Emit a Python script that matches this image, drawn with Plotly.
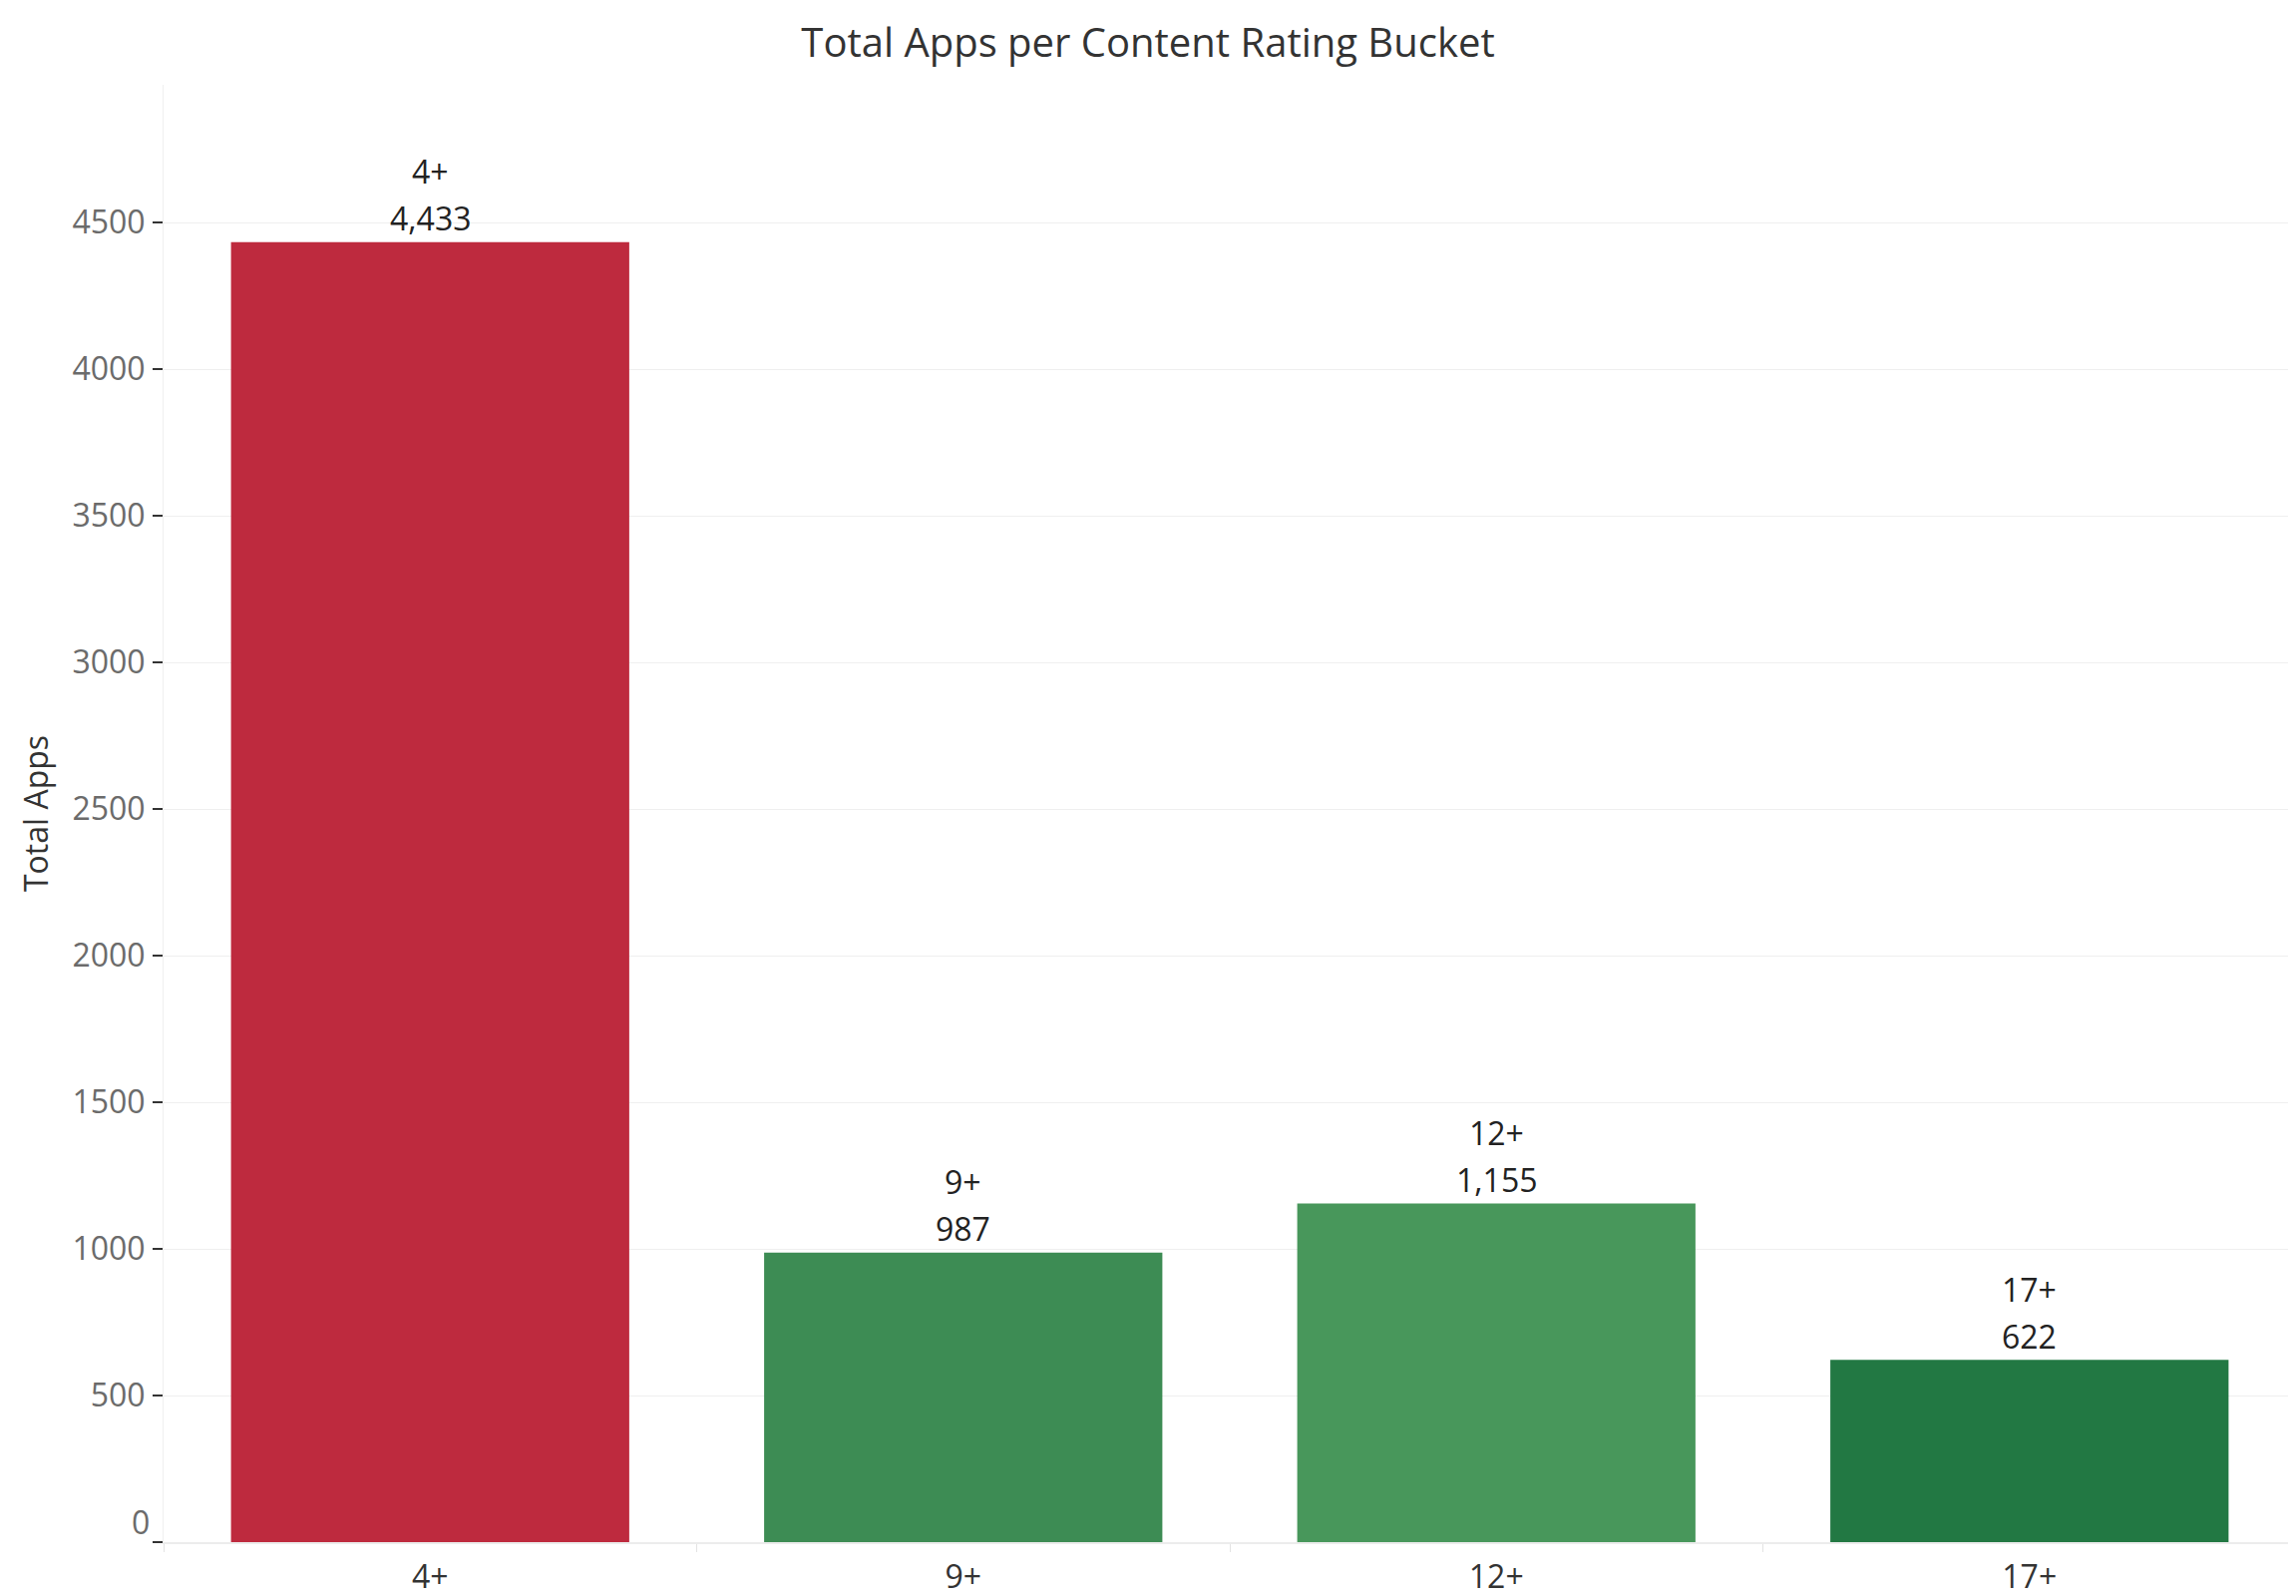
import plotly.graph_objects as go

categories = ["4+", "9+", "12+", "17+"]
total_apps = [4433, 987, 1155, 622]
bar_colors = ["#be2a3e", "#3d8c54", "#48975b", "#227843"]
y_tick_vals = [0, 500, 1000, 1500, 2000, 2500, 3000, 3500, 4000, 4500]
y_tick_text = ["", "500", "1000", "1500", "2000", "2500", "3000", "3500", "4000", "4500"]

FONT = "Open Sans"
W, H = 2294, 1592  # page body has an 8px margin

fig = go.Figure()
fig.add_trace(go.Bar(
    x=categories,
    y=total_apps,
    marker=dict(color=bar_colors, line=dict(width=0)),
    width=0.747,
    hoverinfo="x+y",
))

annotations = []
for c, v in zip(categories, total_apps):
    annotations.append(dict(x=c, y=v, xref="x", yref="y", text=f"{v:,}",
                            showarrow=False, yanchor="middle", yshift=24,
                            font=dict(family=FONT, size=32, color="#222222")))
    annotations.append(dict(x=c, y=v, xref="x", yref="y", text=c,
                            showarrow=False, yanchor="middle", yshift=71,
                            font=dict(family=FONT, size=32, color="#222222")))
# zero label sits above its tick, as in the reference
annotations.append(dict(x=0, y=y_tick_vals[0], xref="paper", yref="y", text="0",
                        showarrow=False, xanchor="right", yanchor="middle",
                        xshift=-12, yshift=21,
                        font=dict(family=FONT, size=32, color="#6b6b6b")))

fig.update_layout(
    width=W, height=H,
    paper_bgcolor="white", plot_bgcolor="white",
    margin=dict(l=156, r=0, t=77, b=54, autoexpand=False),
    showlegend=False,
    title=dict(text="Total Apps per Content Rating Bucket",
               x=(1151 - 8) / W, xanchor="center",
               y=1 - 35 / H, yanchor="middle",
               font=dict(family=FONT, size=40, color="#333333")),
    annotations=annotations,
    xaxis=dict(
        type="category",
        automargin=False,
        tickson="boundaries",
        ticks="outside", ticklen=8, tickwidth=1, tickcolor="#e3e3e3",
        ticklabelstandoff=6,
        showgrid=False,
        showline=True, linecolor="#ececec", linewidth=2,
        tickfont=dict(family=FONT, size=32, color="#333333"),
    ),
    yaxis=dict(
        automargin=False,
        range=[0, 4970],
        tickvals=y_tick_vals,
        ticktext=y_tick_text,
        ticks="outside", ticklen=10, tickwidth=2, tickcolor="#333333",
        ticklabelstandoff=1,
        showgrid=True, gridcolor="#efefef", gridwidth=1,
        zeroline=False,
        showline=True, linecolor="#f0f0f0", linewidth=1,
        tickfont=dict(family=FONT, size=32, color="#6b6b6b"),
        title=dict(text="Total Apps", standoff=14,
                   font=dict(family=FONT, size=32, color="#333333")),
    ),
)

fig.write_html("out.html")
